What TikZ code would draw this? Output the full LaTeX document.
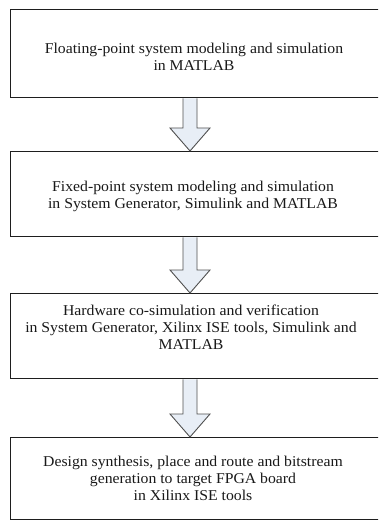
\documentclass[tikz,border=0pt]{standalone}
\usepackage{fontspec}
\setmainfont{Liberation Serif}[FakeStretch=1.05]
\usetikzlibrary{calc}
\definecolor{arrfill}{RGB}{232,238,246}
\definecolor{arrline}{RGB}{80,80,80}
\definecolor{boxline}{RGB}{30,30,30}
\tikzset{
  box/.style={draw=boxline, line width=1.3pt, fill=white, rectangle, anchor=north west, minimum width=390pt, inner sep=0pt},
  label/.style={align=center, font=\fontsize{15}{17}\selectfont, text=black!90, inner sep=0pt},
  barrow/.style={draw=arrline, fill=arrfill, line width=0.9pt, line join=miter}
}
\newcommand{\blockarrow}[3]{%
  \coordinate (#3s) at ($(#1.south west)+(180pt,0)$);
  \coordinate (#3t) at (#3s |- #2.north);
  \draw[barrow] ([xshift=-7pt]#3s) -- ([xshift=-7pt,yshift=23pt]#3t) -- ([xshift=-20pt,yshift=23pt]#3t) -- (#3t) -- ([xshift=20pt,yshift=23pt]#3t) -- ([xshift=7pt,yshift=23pt]#3t) -- ([xshift=7pt]#3s);
}
\begin{document}
\begin{tikzpicture}[x=1pt,y=1pt]
\useasboundingbox (0,0) rectangle (378,-521);
\clip (0,0) rectangle (378,-521);
\node[box, minimum height=88pt] (b1) at (10,-9) {};
\node[box, minimum height=85pt] (b2) at (10,-151) {};
\node[box, minimum height=85pt] (b3) at (10,-293) {};
\node[box, minimum height=82pt] (b4) at (10,-437) {};
\node[label] (t1) at (194,-57) {Floating-point system modeling and simulation\\in MATLAB};
\node[label] (t2) at (193,-196) {Fixed-point system modeling and simulation\\in System Generator, Simulink and MATLAB};
\node[label] (t3) at (191,-327) {Hardware co-simulation and verification\\in System Generator, Xilinx ISE tools, Simulink and\\MATLAB};
\node[label] (t4) at (193,-478) {Design synthesis, place and route and bitstream\\generation to target FPGA board\\in Xilinx ISE tools};
\blockarrow{b1}{b2}{a1}
\blockarrow{b2}{b3}{a2}
\blockarrow{b3}{b4}{a3}
\end{tikzpicture}
\end{document}
